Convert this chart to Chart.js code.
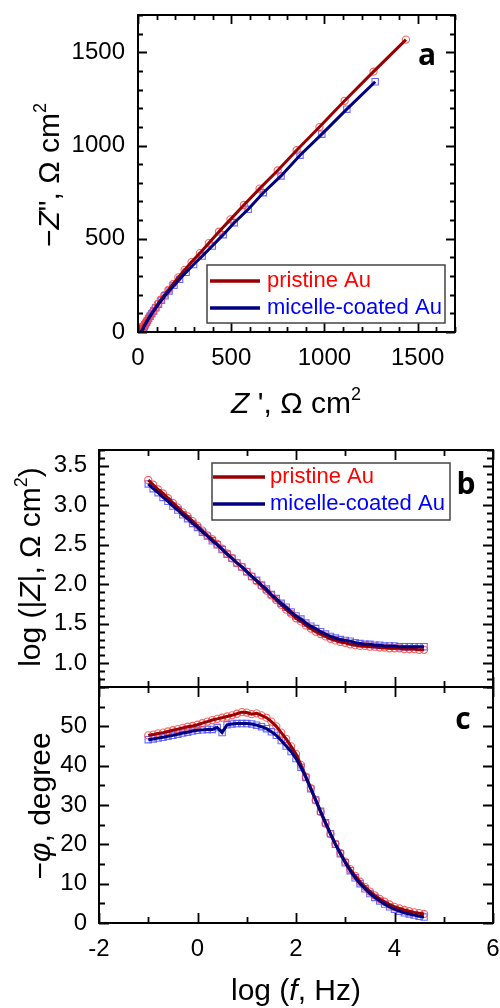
<!DOCTYPE html>
<html>
<head>
<meta charset="utf-8">
<script src="https://cdn.jsdelivr.net/npm/chart.js@4.4.0/dist/chart.umd.min.js"></script>
<style>
  body { margin: 0; width: 500px; height: 1008px; background: #fff; position: relative; overflow: hidden;
         font-family: "Liberation Sans", Arial, sans-serif; }
  canvas { position: absolute; left: 0; }
  .title { position: absolute; font-size: 30px; white-space: nowrap; color: #000; transform: translate(-50%, -50%); }
  .rot { transform: translate(-50%, -50%) rotate(-90deg); }
  .tag { position: absolute; font: bold 30px "Open Sans", sans-serif; transform: translate(-50%, -50%); }
  sup { font-size: 60%; line-height: 0; vertical-align: 0.75em; }
</style>
</head>
<body>
<canvas id="chartA" width="500" height="420" style="top:0"></canvas>
<canvas id="chartB" width="500" height="270" style="top:430px"></canvas>
<canvas id="chartC" width="500" height="338" style="top:670px"></canvas>

<div class="title" style="left:296px;top:403px"><i>Z</i> ', &Omega; cm<sup>2</sup></div>
<div class="title rot" style="left:49px;top:175px">&minus;<i>Z</i>", &Omega; cm<sup>2</sup></div>
<div class="title rot" style="left:30px;top:567px">log (|<i>Z</i>|, &Omega; cm<sup>2</sup>)</div>
<div class="title rot" style="left:40px;top:806px">&minus;<i>&phi;</i>, degree</div>
<div class="title" style="left:296px;top:990px">log (<i>f</i>, Hz)</div>
<div class="tag" style="left:427px;top:53px">a</div>
<div class="tag" style="left:466px;top:482px">b</div>
<div class="tag" style="left:463px;top:717px">c</div>

<script>
// Nyquist (panel a), from low to high frequency
const zReP = [1437, 1263, 1108, 973, 851, 749, 652, 568, 496, 434, 380, 332, 287, 250, 216, 187, 163, 141, 122, 106,
  92, 80, 69, 60, 52, 45, 40, 36, 33, 30, 27, 26, 24, 22.7, 21.5, 20.6, 19.8, 18.8, 18.3, 17.7,
  17.5, 16.6, 16.4, 16.1, 15.7, 15.5, 15.1, 14.8];
const zImP = [1568, 1396, 1240, 1099, 975, 866, 769, 681, 604, 538, 477, 423, 375, 333, 293, 257, 226, 198, 173, 150,
  129, 110, 94, 80, 67, 56, 48, 41, 35, 30, 25, 22, 18, 15.5, 13, 11, 9.4, 7.8, 6.7, 5.7,
  4.9, 3.5, 2.7, 2.0, 1.5, 1.1, 0.8, 0.6];
const zReM = [1272, 1120, 986, 869, 767, 672, 591, 516, 457, 398, 344, 298, 258, 223, 193, 167, 145, 126, 110, 96,
  84, 74, 65, 57, 51, 46, 41, 37, 34, 31.5, 29.5, 27.5, 26, 24.5, 23.3, 22.3, 21.4, 20.6, 19.9, 19.3,
  18.4, 17.7, 17.3, 16.9, 16.6, 16.4, 16.2];
const zImM = [1342, 1195, 1061, 948, 837, 747, 658, 586, 522, 461, 407, 362, 320, 283, 250, 220, 194, 170, 149, 130,
  113, 98, 84, 72, 61, 52, 44, 37, 31, 26.5, 22.5, 19, 16, 13.3, 11, 9.3, 7.8, 6.6, 5.6, 4.8,
  3.5, 2.6, 1.9, 1.4, 1.0, 0.7, 0.4];

// Bode (panels b, c)
const logF = [-1.0, -0.9, -0.8, -0.7, -0.6, -0.5, -0.4, -0.3, -0.2, -0.1,
  0.0, 0.1, 0.2, 0.3, 0.4, 0.5, 0.6, 0.7, 0.8, 0.9,
  1.0, 1.1, 1.2, 1.3, 1.4, 1.5, 1.6, 1.7, 1.8, 1.9,
  2.0, 2.1, 2.2, 2.3, 2.4, 2.5, 2.6, 2.7, 2.8, 2.9,
  3.0, 3.1, 3.2, 3.3, 3.4, 3.5, 3.6, 3.7, 3.8, 3.9,
  4.0, 4.1, 4.2, 4.3, 4.4, 4.5, 4.6];
const logZP = [3.32, 3.26, 3.20, 3.15, 3.09, 3.03, 2.97, 2.91, 2.86, 2.80,
  2.74, 2.68, 2.62, 2.57, 2.51, 2.45, 2.39, 2.33, 2.27, 2.22,
  2.16, 2.10, 2.04, 1.98, 1.92, 1.86, 1.80, 1.74, 1.68, 1.63,
  1.57, 1.53, 1.48, 1.44, 1.40, 1.37, 1.34, 1.31, 1.29, 1.27,
  1.26, 1.24, 1.23, 1.22, 1.22, 1.21, 1.21, 1.20, 1.20, 1.19,
  1.19, 1.19, 1.18, 1.18, 1.18, 1.17, 1.17];
const logZM = [3.27, 3.21, 3.16, 3.10, 3.05, 2.99, 2.94, 2.88, 2.83, 2.77,
  2.72, 2.66, 2.61, 2.55, 2.50, 2.44, 2.38, 2.33, 2.27, 2.22,
  2.16, 2.10, 2.05, 1.99, 1.94, 1.87, 1.82, 1.76, 1.71, 1.65,
  1.60, 1.56, 1.51, 1.47, 1.44, 1.40, 1.37, 1.34, 1.32, 1.30,
  1.29, 1.28, 1.26, 1.25, 1.24, 1.24, 1.23, 1.23, 1.22, 1.22,
  1.22, 1.21, 1.21, 1.21, 1.21, 1.21, 1.21];
const phaseP = [47.7, 47.9, 48.2, 48.4, 48.7, 49.0, 49.3, 49.6, 49.9, 50.1,
  50.4, 50.8, 51.2, 51.6, 51.9, 52.2, 52.5, 52.8, 53.2, 53.6,
  53.5, 53.1, 53.3, 52.8, 52.2, 51.2, 50.0, 48.4, 46.8, 44.9,
  43.0, 40.2, 37.2, 34.3, 31.2, 28.2, 25.3, 22.6, 20.1, 17.8,
  15.6, 13.7, 12.0, 10.5, 9.2, 8.0, 7.0, 6.1, 5.4, 4.7,
  4.1, 3.7, 3.3, 3.0, 2.7, 2.5, 2.3];
const phaseM = [46.6, 46.8, 47.0, 47.2, 47.5, 47.7, 48.0, 48.3, 48.5, 48.8,
  49.0, 49.1, 49.2, 49.2, 49.7, 48.4, 50.4, 50.6, 50.7, 50.7,
  50.7, 50.6, 50.3, 49.9, 49.4, 48.6, 47.7, 46.4, 45.0, 43.6,
  41.8, 39.6, 37.0, 34.1, 31.3, 28.4, 25.5, 22.7, 20.0, 17.6,
  15.3, 13.3, 11.5, 10.0, 8.7, 7.5, 6.5, 5.6, 4.8, 4.1,
  3.5, 3.0, 2.6, 2.3, 2.0, 1.7, 1.5];

const ticksZ = [0, 500, 1000, 1500];
const ticksLogF = [-2, 0, 2, 4, 6];
const ticksLogZ = [1.0, 1.5, 2.0, 2.5, 3.0, 3.5];
const ticksPhase = [0, 10, 20, 30, 40, 50];
const labels = ['pristine Au', 'micelle-coated Au'];

const FONT = '"Liberation Sans", Arial, sans-serif';

// box, inward ticks on all four sides
const framePlugin = {
  id: 'frame',
  afterDraw(chart, args, o) {
    const ctx = chart.ctx, a = chart.chartArea;
    ctx.save();
    ctx.strokeStyle = '#000';
    ctx.lineWidth = 2;
    ctx.strokeRect(a.left, a.top, a.right - a.left, a.bottom - a.top);
    ctx.lineWidth = 1.8;
    const marks = (scale, minor, major, horiz) => {
      const n0 = Math.ceil(scale.min / minor - 1e-6), n1 = Math.floor(scale.max / minor + 1e-6);
      for (let n = n0; n <= n1; n++) {
        const v = n * minor;
        const isMajor = Math.abs(v / major - Math.round(v / major)) < 1e-6;
        const len = isMajor ? o.majorLen : o.minorLen;
        const p = Math.round(scale.getPixelForValue(v)) + 0.5;
        ctx.beginPath();
        if (horiz) {
          ctx.moveTo(p, a.bottom); ctx.lineTo(p, a.bottom - len);
          ctx.moveTo(p, a.top); ctx.lineTo(p, a.top + len);
        } else {
          ctx.moveTo(a.left, p); ctx.lineTo(a.left + len, p);
          ctx.moveTo(a.right, p); ctx.lineTo(a.right - len, p);
        }
        ctx.stroke();
      }
    };
    marks(chart.scales.x, o.xMinor, o.xMajor, true);
    marks(chart.scales.y, o.yMinor, o.yMajor, false);
    ctx.restore();
  }
};

const boxLegend = {
  id: 'boxLegend',
  afterDraw(chart, args, o) {
    if (!o.box) return;
    const ctx = chart.ctx;
    ctx.save();
    ctx.strokeStyle = '#444';
    ctx.lineWidth = 1.5;
    ctx.strokeRect(o.box[0], o.box[1], o.box[2], o.box[3]);
    const items = chart.data.datasets.filter(d => d.legendColor);
    items.forEach((d, i) => {
      const y = o.rows[i];
      ctx.strokeStyle = d.borderColor;
      ctx.lineWidth = 3.5;
      ctx.beginPath();
      ctx.moveTo(o.line[0], y);
      ctx.lineTo(o.line[1], y);
      ctx.stroke();
      ctx.fillStyle = d.legendColor;
      ctx.font = '22px ' + FONT;
      ctx.textBaseline = 'middle';
      ctx.fillText(d.label, o.textX, y);
    });
    ctx.restore();
  }
};

function axis(s) {
  return {
    type: 'linear',
    min: s.min,
    max: s.max,
    grid: { display: false, drawTicks: false },
    border: { display: false },
    afterBuildTicks: sc => { sc.ticks = s.labels.map(v => ({ value: v })); },
    afterFit: sc => {
      if (sc.isHorizontal()) sc.height = s.size; else sc.width = s.size;
      sc.paddingTop = 0; sc.paddingBottom = 0; sc.paddingLeft = 0; sc.paddingRight = 0;
    },
    ticks: {
      display: s.labels.length > 0,
      padding: s.pad,
      color: '#000',
      font: { family: FONT, size: 24 },
      maxRotation: 0,
      autoSkip: false,
      callback: s.fmt || (v => String(v))
    }
  };
}

function series(xs, ys, label, markColor, lineColor, legendColor, style) {
  const pts = xs.map((x, i) => ({ x: x, y: ys[i] }));
  return [
    { label: label + ' data', data: pts, showLine: false, pointStyle: style, pointRadius: style === 'rect' ? 4.5 : 3.6,
      pointBorderColor: markColor, pointBackgroundColor: 'rgba(0,0,0,0)', pointBorderWidth: 1.1, order: 3 },
    { label: label, data: pts, showLine: true, pointRadius: 0, borderColor: lineColor, borderWidth: 3,
      legendColor: legendColor, order: style === 'rect' ? 1 : 2 }
  ];
}

function makeChart(id, datasets, o) {
  return new Chart(document.getElementById(id), {
    type: 'scatter',
    data: { datasets: datasets },
    options: {
      responsive: false,
      animation: false,
      events: [],
      layout: { padding: o.padding, autoPadding: false },
      plugins: { legend: { display: false }, tooltip: { enabled: false }, frame: o.frame, boxLegend: o.legend || {} },
      scales: { x: axis(o.x), y: axis(o.y) }
    },
    plugins: [framePlugin, boxLegend]
  });
}

const RED_M = 'rgba(255,70,70,0.85)', BLUE_M = 'rgba(80,80,255,0.85)';
const RED_L = '#990000', BLUE_L = '#000080';

makeChart('chartA',
  series(zReP, zImP, labels[0], RED_M, RED_L, '#ff0000', 'circle')
    .concat(series(zReM, zImM, labels[1], BLUE_M, BLUE_L, '#0000ff', 'rect')),
  {
    padding: { top: 15, right: 45, left: 0, bottom: 0 },
    x: { min: 0, max: 1700, labels: ticksZ, size: 88, pad: 12 },
    y: { min: 0, max: 1700, labels: ticksZ, size: 138, pad: 13 },
    frame: { xMinor: 100, xMajor: 500, yMinor: 100, yMajor: 500, majorLen: 9, minorLen: 5 },
    legend: { box: [207, 265, 238, 58], rows: [281, 308], line: [210, 260], textX: 267 }
  });

makeChart('chartB',
  series(logF, logZP, labels[0], RED_M, RED_L, '#ff0000', 'circle')
    .concat(series(logF, logZM, labels[1], BLUE_M, BLUE_L, '#0000ff', 'rect')),
  {
    padding: { top: 20, right: 7, left: 0, bottom: 0 },
    x: { min: -2, max: 6, labels: [], size: 13, pad: 0 },
    y: { min: 0.7, max: 3.7, labels: ticksLogZ, size: 99, pad: 12, fmt: v => v.toFixed(1) },
    frame: { xMinor: 1, xMajor: 2, yMinor: 0.1, yMajor: 0.5, majorLen: 10, minorLen: 6 },
    legend: { box: [212, 33, 238, 57], rows: [47, 74], line: [213, 265], textX: 270 }
  });

makeChart('chartC',
  series(logF, phaseP, labels[0], RED_M, RED_L, '#ff0000', 'circle')
    .concat(series(logF, phaseM, labels[1], BLUE_M, BLUE_L, '#0000ff', 'rect')),
  {
    padding: { top: 17, right: 7, left: 0, bottom: 0 },
    x: { min: -2, max: 6, labels: ticksLogF, size: 85, pad: 12 },
    y: { min: 0, max: 60, labels: ticksPhase, size: 99, pad: 12 },
    frame: { xMinor: 1, xMajor: 2, yMinor: 5, yMajor: 10, majorLen: 10, minorLen: 6 }
  });
</script>
</body>
</html>
